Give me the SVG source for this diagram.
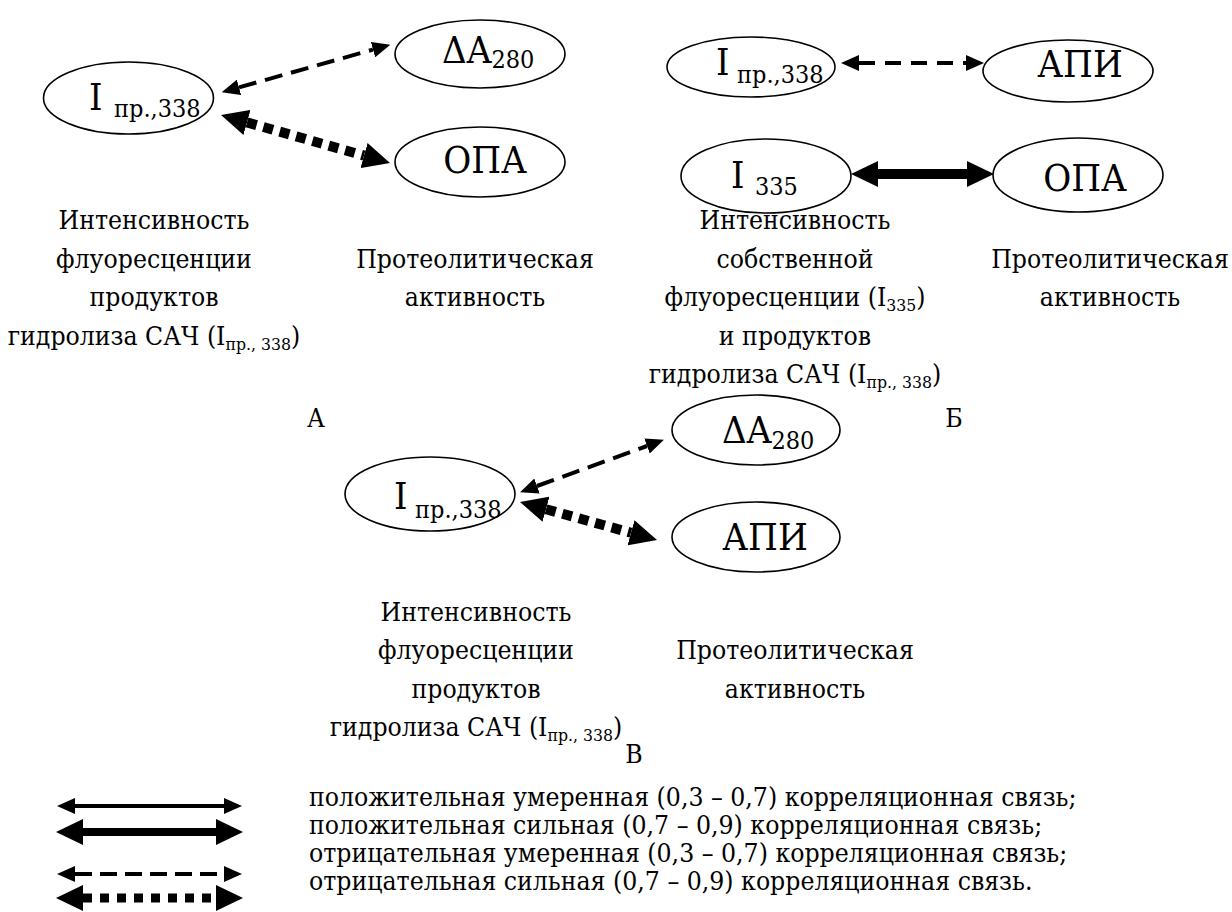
<svg xmlns="http://www.w3.org/2000/svg" width="1232" height="912" viewBox="0 0 1232 912">
<style>
text { font-family: "DejaVu Serif Condensed", "DejaVu Serif", serif; font-stretch: condensed; fill: #000; }
.node ellipse { fill: none; stroke: #000; stroke-width: 1.6; }
.big { font-size: 38px; }
.sub { font-size: 25px; }
.body { font-size: 26.3px; }
.small { font-size: 17.5px; }
.c { text-anchor: middle; }
.mod { stroke: #000; stroke-width: 4; fill: none; }
.dash { stroke-dasharray: 18 9; }
.strong { stroke: #000; stroke-width: 10; fill: none; }
.dot { stroke: #000; stroke-width: 10; stroke-dasharray: 10 7; fill: none; }
</style>
<defs>
<marker id="hs" markerUnits="userSpaceOnUse" markerWidth="18" markerHeight="16" refX="0" refY="8" orient="auto-start-reverse"><path d="M0,0 L18,8 L0,16 z" fill="#000"/></marker>
<marker id="hl" markerUnits="userSpaceOnUse" markerWidth="27" markerHeight="26" refX="0" refY="13" orient="auto-start-reverse"><path d="M0,0 L27,13 L0,26 z" fill="#000"/></marker>
</defs>
<rect width="1232" height="912" fill="#fff"/>

<g id="connectors">
<line class="mod dash" x1="239" y1="87.4" x2="373" y2="49.6" marker-start="url(#hs)" marker-end="url(#hs)"/>
<line class="dot" x1="247" y1="122.4" x2="364" y2="155.6" marker-start="url(#hl)" marker-end="url(#hl)"/>
<line class="mod" style="stroke-dasharray:16 10" x1="859" y1="63" x2="966" y2="63" marker-start="url(#hs)" marker-end="url(#hs)"/>
<line class="strong" x1="878" y1="174" x2="967" y2="174" marker-start="url(#hl)" marker-end="url(#hl)"/>
<line class="mod dash" x1="537" y1="486" x2="647" y2="446" marker-start="url(#hs)" marker-end="url(#hs)"/>
<line class="dot" x1="546" y1="509.2" x2="631" y2="532.8" marker-start="url(#hl)" marker-end="url(#hl)"/>
</g>

<g id="nA1" class="node"><ellipse cx="128.5" cy="98" rx="85" ry="36"/><text class="big" x="89" y="110">I</text><text class="sub" x="114" y="117">пр.,338</text></g>
<g id="nA2" class="node"><ellipse cx="480" cy="54" rx="85" ry="34"/><text class="big" x="442" y="63">ΔA<tspan class="sub" dy="5">280</tspan></text></g>
<g id="nA3" class="node"><ellipse cx="480" cy="162" rx="85" ry="35"/><text class="big c" x="485" y="173">ОПА</text></g>

<g id="nB1" class="node"><ellipse cx="751" cy="67" rx="84" ry="30"/><text class="big" x="716" y="75">I</text><text class="sub" x="737" y="83">пр.,338</text></g>
<g id="nB2" class="node"><ellipse cx="1068" cy="71" rx="85" ry="31"/><text class="big c" x="1080" y="77">АПИ</text></g>
<g id="nB3" class="node"><ellipse cx="766" cy="176" rx="85" ry="37"/><text class="big" x="731" y="188">I</text><text class="sub" x="755" y="195">335</text></g>
<g id="nB4" class="node"><ellipse cx="1078" cy="175" rx="85" ry="37"/><text class="big c" x="1085" y="191">ОПА</text></g>

<g id="nC1" class="node"><ellipse cx="430" cy="494" rx="85" ry="37"/><text class="big" x="394" y="509">I</text><text class="sub" x="415" y="518">пр.,338</text></g>
<g id="nC2" class="node"><ellipse cx="756" cy="430" rx="84" ry="35"/><text class="big" x="722" y="443">ΔA<tspan class="sub" dy="6">280</tspan></text></g>
<g id="nC3" class="node"><ellipse cx="756" cy="537" rx="84" ry="35"/><text class="big c" x="765" y="550">АПИ</text></g>

<g id="captionA">
<text class="body c" x="154" y="229">Интенсивность</text>
<text class="body c" x="154" y="268">флуоресценции</text>
<text class="body c" x="154" y="306">продуктов</text>
<text class="body c" x="154" y="345">гидролиза САЧ (I<tspan class="small" dy="5">пр., 338</tspan><tspan dy="-5">)</tspan></text>
<text class="body c" x="475" y="268">Протеолитическая</text>
<text class="body c" x="475" y="306">активность</text>
<text class="body c" x="316" y="427">А</text>
</g>

<g id="captionB">
<text class="body c" x="795" y="229">Интенсивность</text>
<text class="body c" x="795" y="268">собственной</text>
<text class="body c" x="795" y="306">флуоресценции (I<tspan class="small" dy="5">335</tspan><tspan dy="-5">)</tspan></text>
<text class="body c" x="795" y="345">и продуктов</text>
<text class="body c" x="795" y="383">гидролиза САЧ (I<tspan class="small" dy="5">пр., 338</tspan><tspan dy="-5">)</tspan></text>
<text class="body c" x="1110" y="268">Протеолитическая</text>
<text class="body c" x="1110" y="306">активность</text>
<text class="body c" x="954" y="427">Б</text>
</g>

<g id="captionC">
<text class="body c" x="476" y="621">Интенсивность</text>
<text class="body c" x="476" y="659">флуоресценции</text>
<text class="body c" x="476" y="698">продуктов</text>
<text class="body c" x="476" y="736">гидролиза САЧ (I<tspan class="small" dy="5">пр., 338</tspan><tspan dy="-5">)</tspan></text>
<text class="body c" x="795" y="659">Протеолитическая</text>
<text class="body c" x="795" y="698">активность</text>
<text class="body c" x="634" y="763">В</text>
</g>

<g id="legend">
<line class="mod" x1="75" y1="806" x2="224" y2="806" marker-start="url(#hs)" marker-end="url(#hs)"/>
<line class="strong" style="stroke-width:8" x1="83" y1="832" x2="216" y2="832" marker-start="url(#hl)" marker-end="url(#hl)"/>
<line class="mod" style="stroke-dasharray:17 8" x1="75" y1="874" x2="224" y2="874" marker-start="url(#hs)" marker-end="url(#hs)"/>
<line class="dot" style="stroke-width:9;stroke-dasharray:9 8" x1="83" y1="898" x2="216" y2="898" marker-start="url(#hl)" marker-end="url(#hl)"/>
<text class="body" x="309" y="806">положительная умеренная (0,3 – 0,7) корреляционная связь;</text>
<text class="body" x="309" y="834">положительная сильная (0,7 – 0,9) корреляционная связь;</text>
<text class="body" x="309" y="862">отрицательная умеренная (0,3 – 0,7) корреляционная связь;</text>
<text class="body" x="309" y="890">отрицательная сильная (0,7 – 0,9) корреляционная связь.</text>
</g>
</svg>
